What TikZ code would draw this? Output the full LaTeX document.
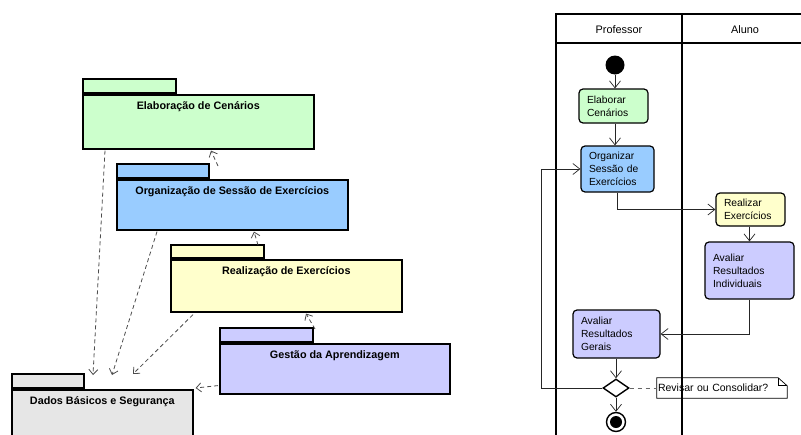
\documentclass[tikz,border=0pt]{standalone}
\usepackage{fontspec}
\setmainfont{Liberation Sans}
\usetikzlibrary{arrows.meta,shapes.geometric,calc}
\definecolor{cgreen}{RGB}{204,255,204}
\definecolor{cblue}{RGB}{153,204,255}
\definecolor{cyellow}{RGB}{255,255,204}
\definecolor{clav}{RGB}{204,204,255}
\definecolor{cgray}{RGB}{230,230,230}
\begin{document}
\begin{tikzpicture}[x=1pt,y=-1pt,
  pkg/.style={draw=black, line width=1.6pt, rectangle, inner sep=0pt},
  pkgtitle/.style={font=\bfseries\fontsize{10.8}{12}\selectfont, inner sep=0pt},
  dep/.style={draw=black!70, line width=0.8pt, dash pattern=on 4pt off 3pt, -{Straight Barb[length=5pt,width=9pt]}},
  act/.style={draw=black, line width=1.2pt, rounded corners=4pt, align=left, inner xsep=8pt, font=\fontsize{10.3}{13}\selectfont},
  flow/.style={draw=black!85, line width=0.7pt, -{Straight Barb[length=7pt,width=11pt]}},
  lane/.style={draw=black, line width=1.7pt},
  hdr/.style={font=\fontsize{10.9}{12}\selectfont, inner sep=0pt}
]
\useasboundingbox (0,0) rectangle (801,434);
\clip (0,0) rectangle (801,434);
\fill[white] (0,0) rectangle (801,434);

% ---------------- packages ----------------
\node[pkg, fill=cgreen, minimum width=231pt, minimum height=54pt, anchor=north west] (elab) at (82,94) {};
\node[pkg, fill=cgreen, minimum width=93pt, minimum height=14pt, anchor=south west] (elabtab) at (elab.north west) {};
\node[pkgtitle] (elabT) at ($(elab.north)+(0,13)$) {Elaboração de Cenários};

\node[pkg, fill=cblue, minimum width=231pt, minimum height=50pt, anchor=north west] (org) at (116,179) {};
\node[pkg, fill=cblue, minimum width=92pt, minimum height=14pt, anchor=south west] (orgtab) at (org.north west) {};
\node[pkgtitle] (orgT) at ($(org.north)+(0,13)$) {Organização de Sessão de Exercícios};

\node[pkg, fill=cyellow, minimum width=231pt, minimum height=52pt, anchor=north west] (real) at (170,259) {};
\node[pkg, fill=cyellow, minimum width=93pt, minimum height=13pt, anchor=south west] (realtab) at (real.north west) {};
\node[pkgtitle] (realT) at ($(real.north)+(0,13)$) {Realização de Exercícios};

\node[pkg, fill=clav, minimum width=230pt, minimum height=50pt, anchor=north west] (gest) at (219,343) {};
\node[pkg, fill=clav, minimum width=93pt, minimum height=14pt, anchor=south west] (gesttab) at (gest.north west) {};
\node[pkgtitle] (gestT) at ($(gest.north)+(0,13)$) {Gestão da Aprendizagem};

\node[pkg, fill=cgray, minimum width=181pt, minimum height=60pt, anchor=north west] (dados) at (11,389) {};
\node[pkg, fill=cgray, minimum width=72pt, minimum height=14pt, anchor=south west] (dadostab) at (dados.north west) {};
\node[pkgtitle] (dadosT) at ($(dados.north)+(0,13)$) {Dados Básicos e Segurança};

% dependencies
\draw[dep] ($(org.north west)+(102,-13)$) -- ($(elab.south west)+(129,1)$);
\draw[dep] ($(real.north west)+(88,-14)$) -- ($(org.south west)+(138,1)$);
\draw[dep] ($(gest.north west)+(96,-14)$) -- ($(real.south west)+(136,1)$);
\draw[dep] ($(elab.south west)+(23,1)$) -- ($(dados.north west)+(82,-14)$);
\draw[dep] ($(org.south west)+(41,1)$) -- ($(dados.north west)+(101,-14)$);
\draw[dep] ($(real.south west)+(23,2)$) -- ($(dados.north west)+(122,-15)$);
\draw[dep] ($(gest.south west)+(-1,-9)$) -- ($(dados.north east)+(2,-1)$);

% ---------------- activity diagram ----------------
\draw[lane] (556,440) -- (556,14) -- (805,14);
\draw[lane] (556,43) -- (805,43);
\draw[lane] (682,14) -- (682,440);
\node[hdr] (profH) at (619,30) {Professor};
\node[hdr] (alunoH) at (745,30) {Aluno};

\node[circle, fill=black, minimum size=19pt, inner sep=0pt] (start) at (615,65) {};
\node[act, fill=cgreen, minimum width=69pt, minimum height=34pt, text width=53pt] (elabA) at (613.5,106) {Elaborar\\Cenários};
\node[act, fill=cblue, minimum width=73pt, minimum height=46pt, text width=57pt] (orgA) at (617.5,169) {Organizar\\Sessão de\\Exercícios};
\node[act, fill=cyellow, minimum width=69pt, minimum height=33pt, text width=53pt] (realA) at (750.5,209.5) {Realizar\\Exercícios};
\node[act, fill=clav, minimum width=89pt, minimum height=57pt, text width=73pt] (indA) at (749.5,270.5) {Avaliar\\Resultados\\Individuais};
\node[act, fill=clav, minimum width=87pt, minimum height=48pt, text width=71pt] (gerA) at (616.5,334) {Avaliar\\Resultados\\Gerais};
\node[diamond, draw=black, line width=1.4pt, fill=white, minimum width=26pt, minimum height=18pt, inner sep=0pt] (dec) at (616,388) {};
\node[circle, draw=black, line width=1.4pt, fill=white, minimum size=19pt, inner sep=0pt] (fin) at (616,422) {};
\node[circle, fill=black, minimum size=12pt, inner sep=0pt] (fincore) at (fin.center) {};

\node[minimum width=130pt, minimum height=20pt, inner xsep=1pt, inner ysep=0pt, text width=128pt, align=left, font=\fontsize{10.5}{12}\selectfont] (note) at (722,388) {Revisar ou Consolidar?};
\draw[black, line width=0.7pt] (note.south west) -- (note.north west) -- ($(note.north east)+(-9,0)$) -- ($(note.north east)+(0,8)$) -- (note.south east) -- cycle;
\draw[black, line width=0.7pt] ($(note.north east)+(-9,0)$) -- ($(note.north east)+(-9,8)$) -- ($(note.north east)+(0,8)$);

\draw[flow] (start.south) -- (start.south |- elabA.north);
\draw[flow] (elabA.south -| start.south) -- (orgA.north -| start.south);
\draw[flow] (orgA.south) |- (realA.west);
\draw[flow] (realA.south -| indA.north) -- (indA.north);
\draw[flow] (indA.south) |- (gerA.east);
\draw[flow] (gerA.south -| dec.north) -- (dec.north);
\coordinate (loopc) at (541,388);
\draw[flow] (dec.west) -- (loopc) |- (orgA.west);
\draw[flow] (dec.south) -- (fin.north);
\draw[draw=black!60, line width=0.8pt, dash pattern=on 4pt off 4pt] (dec.east) -- (note.west);
\end{tikzpicture}
\end{document}
